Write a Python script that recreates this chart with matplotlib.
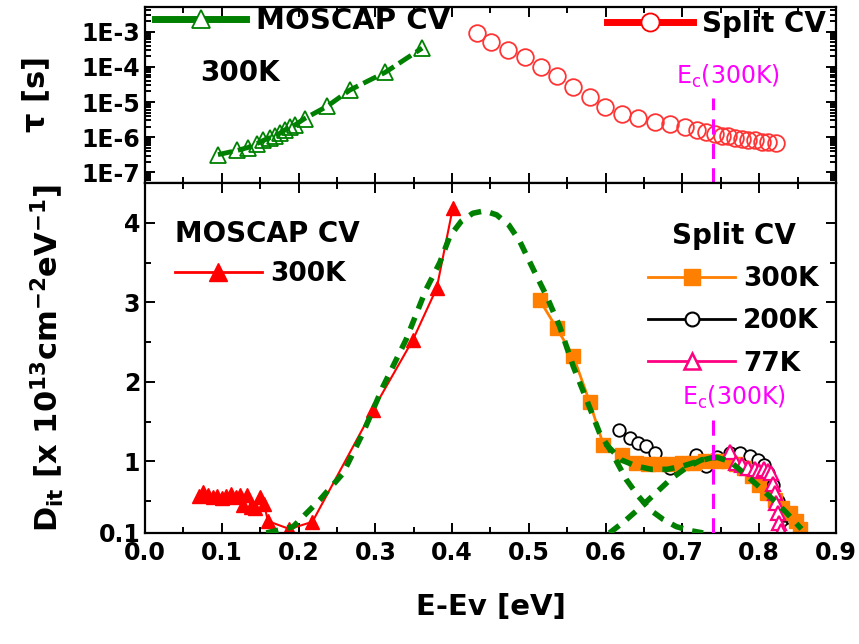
import numpy as np
import matplotlib
matplotlib.use('Agg')
import matplotlib.pyplot as plt
from matplotlib.lines import Line2D
from matplotlib.ticker import FixedLocator, MultipleLocator, LogLocator, NullFormatter

plt.rcParams['font.family'] = ['DejaVu Sans']
plt.rcParams['font.weight'] = 'bold'
plt.rcParams['mathtext.default'] = 'bf'

# ---- top panel: time constant tau ----
tau_mos_E = [0.095, 0.120, 0.134, 0.146, 0.154, 0.163, 0.169, 0.176, 0.182, 0.189,
             0.195, 0.208, 0.237, 0.267, 0.313, 0.361]
tau_mos = [3.2e-7, 4.2e-7, 5.1e-7, 6.6e-7, 8.1e-7, 9.8e-7, 1.1e-6, 1.3e-6, 1.6e-6, 1.9e-6,
           2.2e-6, 3.4e-6, 7.5e-6, 2.2e-5, 7.0e-5, 3.4e-4]

tau_split_E = [0.432, 0.451, 0.473, 0.495, 0.516, 0.536, 0.558, 0.579, 0.599, 0.621,
               0.642, 0.664, 0.684, 0.703, 0.719, 0.731, 0.742, 0.751, 0.760, 0.768,
               0.777, 0.786, 0.794, 0.803, 0.812, 0.822]
tau_split = [9.0e-4, 5.2e-4, 3.1e-4, 1.9e-4, 1.0e-4, 5.4e-5, 2.6e-5, 1.4e-5, 7.2e-6, 4.7e-6,
             3.6e-6, 2.7e-6, 2.3e-6, 1.9e-6, 1.6e-6, 1.4e-6, 1.25e-6, 1.1e-6, 1.05e-6, 9.6e-7,
             9.0e-7, 8.4e-7, 8.1e-7, 7.5e-7, 7.2e-7, 6.7e-7]

# ---- bottom panel: Dit ----
mos_E = [0.070, 0.076, 0.082, 0.088, 0.094, 0.100, 0.106, 0.112, 0.118, 0.124, 0.128, 0.133,
         0.138, 0.143, 0.150, 0.155, 0.160, 0.188, 0.218, 0.297, 0.349, 0.380, 0.401]
mos_D = [0.56, 0.62, 0.58, 0.55, 0.57, 0.54, 0.57, 0.59, 0.55, 0.58, 0.45, 0.58,
         0.43, 0.42, 0.55, 0.47, 0.25, 0.15, 0.24, 1.65, 2.53, 3.18, 4.19]

s300_E = [0.514, 0.536, 0.558, 0.579, 0.597, 0.621, 0.640, 0.655, 0.670, 0.685, 0.700, 0.715,
          0.730, 0.745, 0.760, 0.770, 0.780, 0.790, 0.800, 0.810, 0.820, 0.830, 0.840, 0.848, 0.853]
s300_D = [3.03, 2.68, 2.32, 1.75, 1.21, 1.08, 0.98, 0.97, 0.97, 0.97, 0.98, 0.98,
          1.00, 1.01, 1.00, 0.97, 0.92, 0.82, 0.70, 0.60, 0.52, 0.42, 0.35, 0.25, 0.15]

s200_E = [0.618, 0.632, 0.642, 0.653, 0.664, 0.684, 0.700, 0.718, 0.731, 0.745, 0.762, 0.775,
          0.788, 0.798, 0.806, 0.812, 0.818, 0.825, 0.832, 0.840]
s200_D = [1.40, 1.29, 1.23, 1.19, 1.10, 0.92, 0.97, 1.08, 0.94, 1.05, 1.10, 1.10,
          1.07, 1.02, 0.95, 0.85, 0.70, 0.50, 0.32, 0.15]

s77_E = [0.762, 0.770, 0.778, 0.786, 0.794, 0.800, 0.806, 0.811, 0.815, 0.818, 0.820, 0.822,
         0.824, 0.826, 0.828]
s77_D = [1.12, 0.98, 0.95, 0.92, 0.90, 0.88, 0.90, 0.88, 0.85, 0.72, 0.60, 0.48,
         0.35, 0.22, 0.12]

fit1_E = [0.158, 0.193, 0.228, 0.258, 0.284, 0.310, 0.340, 0.366, 0.384, 0.397, 0.412, 0.427,
          0.442, 0.458, 0.474, 0.488, 0.506, 0.523, 0.540, 0.558, 0.575, 0.592, 0.608, 0.627,
          0.642, 0.658, 0.675, 0.692, 0.710, 0.727]
fit1_D = [0.10, 0.18, 0.52, 0.85, 1.36, 1.94, 2.53, 3.16, 3.50, 3.83, 4.02, 4.12,
          4.15, 4.10, 3.97, 3.77, 3.41, 3.08, 2.70, 2.19, 1.78, 1.36, 1.11, 0.77,
          0.57, 0.39, 0.27, 0.18, 0.13, 0.10]

fit2_E = [0.605, 0.625, 0.645, 0.665, 0.685, 0.705, 0.725, 0.745, 0.762, 0.779, 0.800, 0.818,
          0.835, 0.855]
fit2_D = [0.10, 0.25, 0.42, 0.60, 0.78, 0.92, 1.02, 1.05, 1.00, 0.86, 0.68, 0.52, 0.36, 0.15]

sum_E = [0.600, 0.620, 0.640, 0.660, 0.680, 0.700, 0.720, 0.740]
sum_D = [1.22, 1.02, 0.94, 0.90, 0.90, 0.94, 1.00, 1.05]

Ec = 0.74

GREEN = '#008000'
ORANGE = '#ff8000'
PINK = '#ff0080'
MAGENTA = '#ff00ff'

fig = plt.figure(figsize=(8.59, 6.44), dpi=100)
ax1 = fig.add_axes([0.1688, 0.7158, 0.8044, 0.2733])
ax2 = fig.add_axes([0.1688, 0.1724, 0.8044, 0.5434], sharex=ax1)

def style_axis(ax):
    for sp in ax.spines.values():
        sp.set_linewidth(1.6)
    ax.tick_params(which='both', direction='in', top=True, right=True,
                   width=1.4, labelsize=17)
    ax.tick_params(which='major', length=7)
    ax.tick_params(which='minor', length=4)

# top panel
ax1.plot(tau_mos_E, tau_mos, color=GREEN, lw=3.5, dashes=(3, 1.2),
         marker='^', ms=11, mfc='none', mec=GREEN, mew=1.3)
ax1.plot(tau_split_E, tau_split, ls='none', marker='o', ms=12, mfc='none',
         mec='#ff3535', mew=1.3)
ax1.plot([Ec, Ec], [5e-8, 1.3e-5], color=MAGENTA, lw=2.2, dashes=(5, 3))
ax1.set_yscale('log')
ax1.set_ylim(5e-8, 5e-3)
ax1.set_yticks([1e-7, 1e-6, 1e-5, 1e-4, 1e-3])
ax1.set_yticklabels(['1E-7', '1E-6', '1E-5', '1E-4', '1E-3'])
ax1.yaxis.set_minor_locator(LogLocator(base=10, subs=np.arange(2, 10), numticks=20))
ax1.yaxis.set_minor_formatter(NullFormatter())
style_axis(ax1)
ax1.tick_params(labelbottom=False)
ax1.set_ylabel(r'$\tau$ [s]', fontsize=22, fontweight='bold')
ax1.yaxis.set_label_coords(-0.135, 0.5)
ax1.text(0.691, 3.4e-5, r'E$_\mathregular{c}$(300K)', color=MAGENTA, fontsize=17,
         fontweight='normal')

h_mos = Line2D([], [], color=GREEN, lw=5, marker='^', ms=13, mfc='white', mec=GREEN, mew=1.3)
leg1 = ax1.legend([h_mos], ['MOSCAP CV'], loc='upper left', bbox_to_anchor=(0.015, 1.0),
                  frameon=False, fontsize=21, handlelength=3.1, handletextpad=0.35,
                  borderpad=0, borderaxespad=0)
ax1.add_artist(leg1)
ax1.text(0.08, 0.625, '300K', transform=ax1.transAxes, fontsize=20, va='center')
h_spl = Line2D([], [], color='red', lw=5, marker='o', ms=13, mfc='white', mec='red', mew=1.3)
ax1.legend([h_spl], ['Split CV'], loc='upper right', bbox_to_anchor=(0.985, 0.985),
           frameon=False, fontsize=20, handlelength=3.1, handletextpad=0.3,
           borderpad=0, borderaxespad=0)

# bottom panel
ax2.plot(mos_E, mos_D, color='red', lw=1.5, marker='^', ms=10, mfc='red', mec='red')
ax2.plot(s200_E, s200_D, color='black', lw=1.5, marker='o', ms=9, mfc='white',
         mec='black', mew=1.3)
ax2.plot(s300_E, s300_D, color=ORANGE, lw=2, marker='s', ms=10, mfc=ORANGE, mec=ORANGE)
ax2.plot(s77_E, s77_D, color=PINK, lw=2, marker='^', ms=10, mfc='white', mec=PINK, mew=1.6)
for xs, ys in [(fit1_E, fit1_D), (fit2_E, fit2_D), (sum_E, sum_D)]:
    ax2.plot(xs, ys, color=GREEN, lw=4, dashes=(2.2, 1.7), zorder=5)
ax2.plot([Ec, Ec], [0.1, 1.52], color=MAGENTA, lw=2.2, dashes=(5, 3), zorder=6)
ax2.text(0.70, 1.71, r'E$_\mathregular{c}$(300K)', color=MAGENTA, fontsize=17,
         fontweight='normal')

ax2.set_xlim(0.0, 0.9)
ax2.set_ylim(0.1, 4.5)
ax2.set_xticks(np.arange(0, 0.91, 0.1))
ax2.set_xticklabels(['%.1f' % v for v in np.arange(0, 0.91, 0.1)])
ax2.xaxis.set_minor_locator(MultipleLocator(0.05))
ax2.yaxis.set_major_locator(FixedLocator([0.1, 1, 2, 3, 4]))
ax2.set_yticklabels(['0.1', '1', '2', '3', '4'])
ax2.yaxis.set_minor_locator(FixedLocator([0.5, 1.5, 2.5, 3.5]))
style_axis(ax2)
ax2.tick_params(axis='x', pad=6)
ax2.set_xlabel('E-Ev [eV]', fontsize=21, fontweight='bold', labelpad=20)
ax2.set_ylabel(r'D$_{it}$ [x 10$^{13}$cm$^{-2}$eV$^{-1}$]', fontsize=22, fontweight='bold')
ax2.yaxis.set_label_coords(-0.115, 0.5)

h1 = Line2D([], [], color='red', lw=2, marker='^', ms=13, mfc='red', mec='red')
leg2 = ax2.legend([h1], ['300K'], title='MOSCAP CV', loc='upper left',
                  bbox_to_anchor=(0.043, 0.895), frameon=False, fontsize=19,
                  title_fontproperties={'size': 20, 'weight': 'bold'},
                  handlelength=3.3, handletextpad=0.3, borderpad=0, borderaxespad=0,
                  alignment='left')
ax2.add_artist(leg2)
h2 = Line2D([], [], color=ORANGE, lw=2, marker='s', ms=12, mfc=ORANGE, mec=ORANGE)
h3 = Line2D([], [], color='black', lw=2, marker='o', ms=10, mfc='white', mec='black', mew=1.5)
h4 = Line2D([], [], color=PINK, lw=2, marker='^', ms=11, mfc='white', mec=PINK, mew=1.8)
ax2.legend([h2, h3, h4], ['300K', '200K', '77K'], title='Split CV', loc='upper right',
           bbox_to_anchor=(0.975, 0.89), frameon=False, fontsize=19,
           title_fontproperties={'size': 20, 'weight': 'bold'},
           handlelength=3.3, handletextpad=0.3, labelspacing=0.62,
           borderpad=0, borderaxespad=0, alignment='center')

fig.savefig('out.png', dpi=100)
